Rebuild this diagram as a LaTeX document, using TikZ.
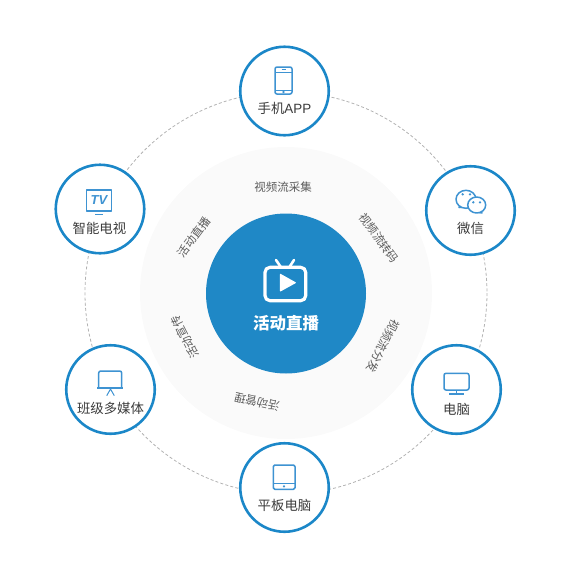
\documentclass[tikz,border=0pt]{standalone}
\usepackage{fontspec}
\setmainfont{Noto Sans CJK SC}
\newfontfamily\latinfont{Liberation Sans}
\usepackage{xcolor}
\usetikzlibrary{positioning}
\definecolor{ringblue}{RGB}{27,135,200}
\definecolor{hubblue}{RGB}{31,136,198}
\definecolor{iconblue}{RGB}{62,147,210}
\definecolor{palegray}{RGB}{250,250,250}
\definecolor{dashgray}{RGB}{178,178,178}
\definecolor{devtext}{RGB}{60,60,60}
\definecolor{steptext}{RGB}{92,92,92}

\begin{document}
\begin{tikzpicture}[
        x=1pt,y=-1pt,
        device/.style={draw=ringblue,line width=2.6pt,circle,fill=white,minimum size=88.5pt,inner sep=0pt},
        devlabel/.style={font=\fontsize{13.4}{13.4}\selectfont,text=devtext,inner sep=0pt},
        steplabel/.style={font=\fontsize{11.5}{11.5}\selectfont,text=steptext,inner sep=0pt},
        icon/.style={draw=iconblue,line width=1.5pt,line join=round},
        hubicon/.style={draw=white,line width=3.2pt,line join=round,line cap=round}
    ]

        \useasboundingbox (0,0) rectangle (574,574);

        \fill[palegray] (286,293) circle [radius=146];
        \draw[dashgray,line width=0.8pt,dash pattern=on 3pt off 2.2pt] (286,293) circle [radius=201];

        \node[circle,fill=hubblue,minimum size=160pt,inner sep=0pt] (hub) at (286,293.5) {};
        \node[font=\fontsize{16.5}{16.5}\bfseries\selectfont,text=white,inner sep=0pt] (hubtext) at (286,323) {活动直播};

        % ring of steps
        \node[steplabel,rotate=0] (collect) at (283,187) {视频流采集};
        \node[steplabel,rotate=-53] (transcode) at (379,238) {视频流转码};
        \node[steplabel,rotate=-117] (dispatch) at (383,346) {视频流分发};
        \node[steplabel,rotate=167] (manage) at (257,402) {活动管理};
        \node[steplabel,rotate=117] (promote) at (185,337) {活动宣传};
        \node[steplabel,rotate=53] (live) at (194,237) {活动直播};

        % devices
        \node[device] (phone) at (284.5,91) {};
        \node[device] (wechat) at (470.5,210.5) {};
        \node[device] (smarttv) at (100,209) {};
        \node[device] (media) at (110.5,389.5) {};
        \node[device] (pc) at (456.5,389.5) {};
        \node[device] (tablet) at (284.5,487.5) {};

        \node[devlabel] (phonetext) at (284.5,108) {手机{\latinfont APP}};
        \node[devlabel] (wechattext) at (470.5,228) {微信};
        \node[devlabel] (smarttvtext) at (99.5,228) {智能电视};
        \node[devlabel] (mediatext) at (110.5,408) {班级多媒体};
        \node[devlabel] (pctext) at (456.5,409) {电脑};
        \node[devlabel] (tablettext) at (284.5,505) {平板电脑};

        % hub icon
        \draw[hubicon,rounded corners=5pt] (265,267.3) rectangle (305.7,300.7);
        \draw[hubicon,line width=2.6pt] (276,260) -- (281,267.3);
        \draw[hubicon,line width=2.6pt] (294,260) -- (289.3,267.3);
        \fill[white,draw=white,line width=1.2pt,line join=round] (280.5,274.5) -- (295.2,282.7) -- (280.5,290.8) -- cycle;

        % phone icon
        \draw[icon,rounded corners=2pt] (275,67) rectangle (292,94);
        \draw[icon,line width=0.9pt] (275,72.3) -- (292,72.3);
        \draw[icon,line width=0.9pt] (275,90) -- (292,90);
        \draw[icon,line width=0.9pt] (281.5,69.7) -- (285.5,69.7);
        \draw[icon,line width=0.8pt] (283.5,92) circle [radius=0.9];

        % wechat icon
        \draw[icon,fill=white] (461,204.5) -- (459,207.5) -- (464,207) -- cycle;
        \draw[icon,fill=white] (466,199.3) ellipse [x radius=10,y radius=9];
        \draw[icon,fill=white] (480,210) -- (482,213) -- (477,212) -- cycle;
        \draw[icon,fill=white] (476.7,205) ellipse [x radius=9,y radius=8];
        \fill[iconblue] (462.7,194.3) circle [radius=1.3] (470,194.3) circle [radius=1.3];
        \fill[iconblue] (473.3,202.3) circle [radius=1.3] (480,202.3) circle [radius=1.3];

        % tv icon
        \draw[icon] (86.7,190) rectangle (111.7,211);
        \draw[icon,line width=1.6pt] (95,214.3) -- (103.3,214.3);
        \node[font=\latinfont\fontsize{13}{13}\bfseries\itshape\selectfont,text=iconblue,inner sep=0pt] (tvmark) at (99,200.5) {TV};

        % projection screen icon
        \draw[icon,rounded corners=2pt] (98.7,388) -- (98.7,371) -- (121.7,371) -- (121.7,388);
        \draw[icon,line width=1.8pt] (97.3,388.3) -- (123.3,388.3);
        \draw[icon,line width=1pt] (106.7,395.7) -- (110.5,389) -- (114.3,395.7);

        % monitor icon
        \draw[icon,rounded corners=2pt] (444,373.3) rectangle (469,390);
        \draw[icon] (456.7,390) -- (456.7,394);
        \draw[icon] (449,394) -- (464.3,394);

        % tablet icon
        \draw[icon,rounded corners=1.5pt] (273.3,465) rectangle (295,489.3);
        \draw[icon,line width=0.9pt] (273.3,483.3) -- (295,483.3);
        \fill[iconblue] (284,486.3) circle [radius=1.2];
\end{tikzpicture}
\end{document}
